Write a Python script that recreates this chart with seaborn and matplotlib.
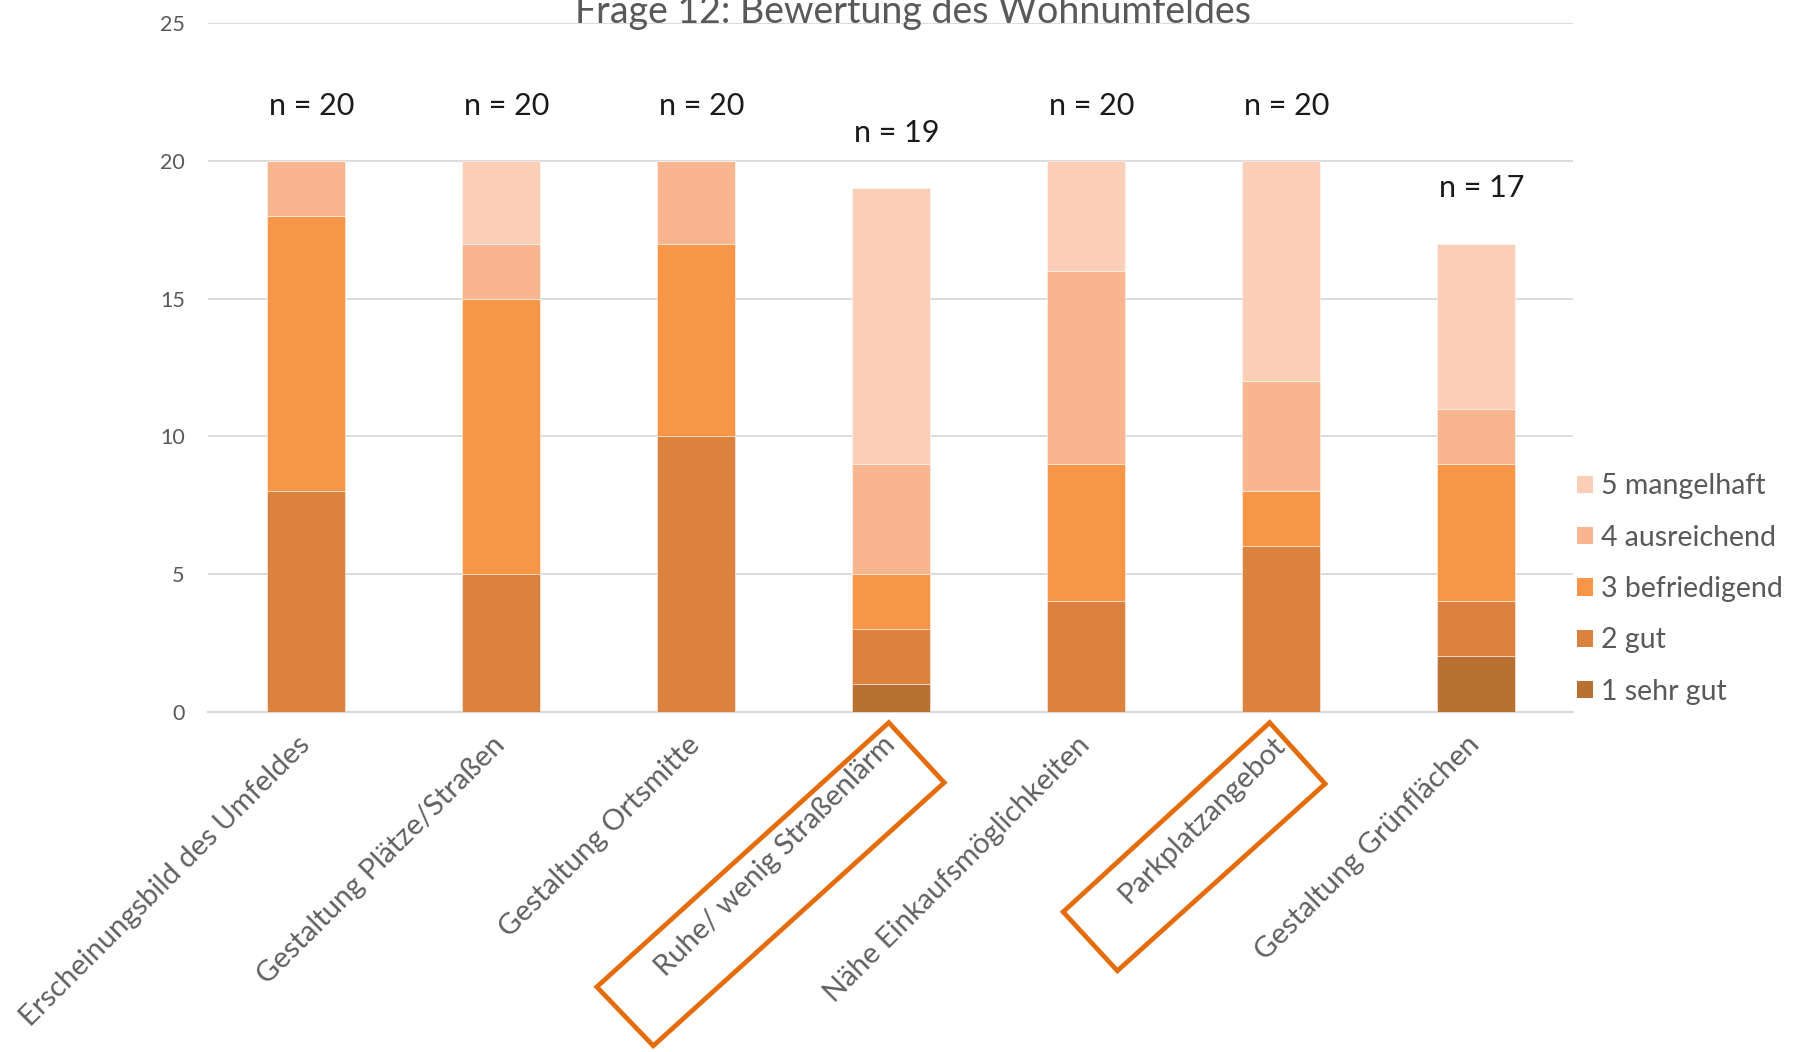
import matplotlib
matplotlib.use("Agg")
import matplotlib.pyplot as plt
import seaborn as sns
import numpy as np
import pandas as pd
from matplotlib.patches import Patch, Polygon
from matplotlib.ticker import FixedLocator

# ---------------- data ----------------
categories = [
    "Erscheinungsbild des Umfeldes",
    "Gestaltung Plätze/Straßen",
    "Gestaltung Ortsmitte",
    "Ruhe/ wenig Straßenlärm",
    "Nähe Einkaufsmöglichkeiten",
    "Parkplatzangebot",
    "Gestaltung Grünflächen",
]
levels = ["1 sehr gut", "2 gut", "3 befriedigend", "4 ausreichend", "5 mangelhaft"]
sehr_gut     = [0, 0, 0, 1, 0, 0, 2]
gut          = [8, 5, 10, 2, 4, 6, 2]
befriedigend = [10, 10, 7, 2, 5, 2, 5]
ausreichend  = [2, 2, 3, 4, 7, 4, 2]
mangelhaft   = [0, 3, 0, 10, 4, 8, 6]
series = [sehr_gut, gut, befriedigend, ausreichend, mangelhaft]
colors = ["#B87033", "#DA823E", "#F79647", "#F8B690", "#FBCEB8"]
title = "Frage 12: Bewertung des Wohnumfeldes"

# ---------------- style ----------------
sns.set_theme(style="white")
plt.rcParams["font.family"] = ["Lato", "DejaVu Sans"]
GRAY = "#595959"
GRID = "#D9D9D9"

W, H = 1810, 1052
fig = plt.figure(figsize=(W / 100, H / 100), dpi=100)
ax = fig.add_axes([208.3 / W, 1 - 711.5 / H, (1573 - 208.3) / W, (711.5 - 23.3) / H])

bottom = np.zeros(len(categories))
for lvl, vals, col in zip(levels, series, colors):
    df = pd.DataFrame({"cat": categories, "val": vals})
    sns.barplot(data=df, x="cat", y="val", order=categories, color=col,
                width=0.4, bottom=bottom.copy(), ax=ax, errorbar=None,
                saturation=1, edgecolor=(1, 1, 1, 0.55), linewidth=0.6,
                zorder=3)
    bottom += np.array(vals)

totals = bottom.astype(int)
for i, t in enumerate(totals):
    ax.text(i + 0.03, t + 2.0, f"n = {t}", ha="center", va="center",
            fontsize=22, color="#1a1a1a")

ax.set_ylim(0, 25)
ax.set_xlim(-0.5, len(categories) - 0.5)
ax.set_yticks([0, 5, 10, 15, 20, 25])
ax.yaxis.grid(True, color=GRID, linewidth=1.3, zorder=0)
ax.set_axisbelow(True)
ax.set_xlabel("")
ax.set_ylabel("")
for s in ["left", "right", "top"]:
    ax.spines[s].set_visible(False)
ax.spines["bottom"].set_color(GRID)
ax.spines["bottom"].set_linewidth(1.5)
ax.tick_params(axis="y", length=0, pad=17, labelsize=15.5, labelcolor=GRAY)
ax.tick_params(axis="x", which="major", length=0, pad=21)
ax.xaxis.set_minor_locator(FixedLocator(np.arange(-0.5, len(categories), 1.0)))
ax.tick_params(axis="x", which="minor", length=7.2, width=1.3, color=GRID)
ax.set_xticks(range(len(categories)))
ax.set_xticklabels(categories, rotation=45, ha="right", va="center",
                   rotation_mode="anchor", fontsize=21, color="#606060")

# legend
handles = [Patch(facecolor=c, edgecolor="none") for c in colors][::-1]
fig.legend(handles, levels[::-1], loc="center left",
           bbox_to_anchor=(1577 / W, 1 - 589 / H), frameon=False,
           prop={"size": 20.5}, labelcolor=GRAY, handlelength=0.55,
           handleheight=0.55, handletextpad=0.3, labelspacing=0.89,
           borderpad=0, borderaxespad=0)

# title
fig.text(913 / W, 1 - 23 / H, title, ha="center", va="baseline",
         fontsize=27, color=GRAY)

# highlight boxes around two category labels
boxes = [
    [(888.8, 722.6), (944.2, 782.6), (653.3, 1045.8), (596.8, 986.9)],
    [(1269.7, 722.6), (1325.1, 783.8), (1117.4, 970.8), (1063.1, 911.9)],
]
for pts in boxes:
    poly = Polygon([(x / W, 1 - y / H) for x, y in pts], closed=True,
                   fill=False, edgecolor="#E46C0A", linewidth=3.4,
                   transform=fig.transFigure, clip_on=False)
    fig.patches.append(poly)

fig.savefig("out.png", dpi=100)
